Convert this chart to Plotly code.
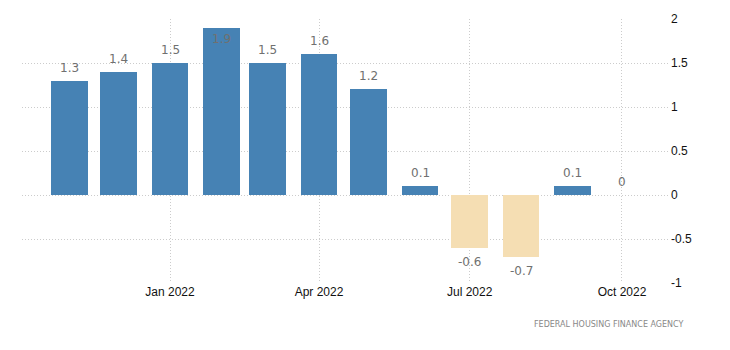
import plotly.graph_objects as go

months = ["2021-11-01", "2021-12-01", "2022-01-01", "2022-02-01", "2022-03-01", "2022-04-01",
          "2022-05-01", "2022-06-01", "2022-07-01", "2022-08-01", "2022-09-01", "2022-10-01"]
values = [1.3, 1.4, 1.5, 1.9, 1.5, 1.6, 1.2, 0.1, -0.6, -0.7, 0.1, 0]
tick_dates = ["2022-01-01", "2022-04-01", "2022-07-01", "2022-10-01"]
tick_text = ["Jan 2022", "Apr 2022", "Jul 2022", "Oct 2022"]
y_ticks = [-1, -0.5, 0, 0.5, 1, 1.5, 2]
y_tick_text = ["-1", "-0.5", "0", "0.5", "1", "1.5", "2"]
source = "FEDERAL HOUSING FINANCE AGENCY"

BLUE = "#4682B4"
WHEAT = "#F5DEB3"
Y_MAX = 2

colors = [BLUE if v >= 0 else WHEAT for v in values]

fig = go.Figure()
fig.add_trace(go.Bar(
    x=months, y=values, marker=dict(color=colors, line=dict(width=0)),
    width=22.3 * 86400000, hoverinfo="skip",
))

for d, v in zip(months, values):
    if v >= 0:
        if v + 0.3 > Y_MAX:
            fig.add_annotation(x=d, y=v, text=f"{v:g}", showarrow=False,
                               yanchor="top", yshift=-2)
        else:
            fig.add_annotation(x=d, y=v, text=f"{v:g}", showarrow=False,
                               yanchor="bottom", yshift=4)
    else:
        fig.add_annotation(x=d, y=v, text=f"{v:g}", showarrow=False,
                           yanchor="top", yshift=-5)

fig.update_annotations(font=dict(family="DejaVu Sans", size=12, color="#707070"))

fig.add_annotation(xref="paper", yref="paper", x=1.025, y=-0.159, xanchor="right",
                   yanchor="middle", text=source, showarrow=False,
                   font=dict(family="DejaVu Sans", size=8, color="#888888"))

GRID_DASH = "1px,2px"

fig.update_layout(
    width=730, height=350,
    margin=dict(l=22, r=60, t=19, b=67),
    paper_bgcolor="white", plot_bgcolor="white",
    showlegend=False, bargap=0,
    font=dict(family="Liberation Sans, Arial", size=12, color="#111111"),
    xaxis=dict(
        type="date", range=["2021-10-03 14:00", "2022-10-30"],
        tickvals=tick_dates, ticktext=tick_text,
        showgrid=True, gridcolor="#cccccc", griddash=GRID_DASH, gridwidth=1,
        zeroline=False, showline=False, ticks="",
        tickfont=dict(size=12),
    ),
    yaxis=dict(
        side="right", range=[-1, 2], tickvals=y_ticks, ticktext=y_tick_text,
        showgrid=True, gridcolor="#cccccc", griddash=GRID_DASH, gridwidth=1,
        zeroline=False, showline=False, ticks="",
        tickfont=dict(size=12),
    ),
)

fig.write_html("out.html")
